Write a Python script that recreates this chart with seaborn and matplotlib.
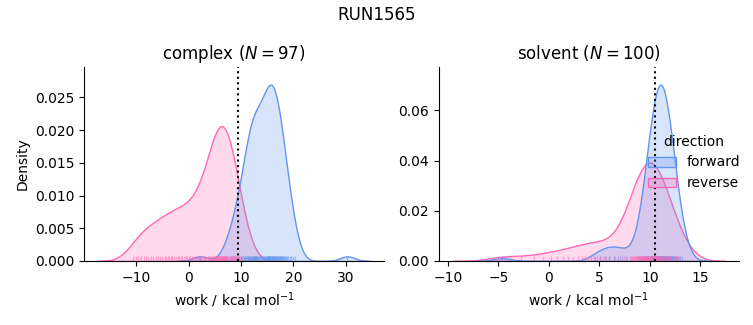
import numpy as np
import pandas as pd
import seaborn as sns
import matplotlib
matplotlib.use("Agg")
import matplotlib.pyplot as plt

# ---- data (work values in kcal/mol) ----
complex_forward = [
    2.2, 30.3,
    7.2, 7.8, 8.3, 8.7, 9.0,
    9.3, 9.6, 9.9, 10.1, 10.3, 10.5, 10.7, 10.8, 11.0, 11.2,
    11.3, 11.4, 11.5, 11.6, 11.7, 11.8, 11.9, 12.0, 12.1, 12.2, 12.3, 12.4,
    12.5, 12.6, 12.7, 12.75, 12.8, 12.9, 13.0,
    13.1, 13.25, 13.4, 13.5, 13.65, 13.8, 13.9, 14.05, 14.2, 14.3, 14.45,
    14.6, 14.7, 14.8, 14.9, 15.0,
    15.05, 15.1, 15.2, 15.25, 15.3, 15.4, 15.5, 15.55, 15.6, 15.7, 15.8,
    15.85, 15.9, 16.0, 16.1, 16.15, 16.2, 16.3, 16.4, 16.5, 16.6, 16.7,
    16.8, 16.9, 17.0,
    17.1, 17.2, 17.3, 17.4, 17.5, 17.6, 17.7, 17.8, 17.9, 18.0, 18.1,
    18.25, 18.4,
    18.6, 18.8, 19.0, 19.3, 19.6, 19.9, 20.3,
]
complex_reverse = [
    -10.7, -10.1, -9.6, -9.0, -8.6, -8.1, -7.7, -7.2, -6.8, -6.3, -5.9, -5.5,
    -5.0, -4.6, -4.3, -4.0,
    -3.7, -3.4, -3.1, -2.8, -2.5, -2.1, -1.8, -1.5, -1.2, -0.9, -0.6, -0.3, 0.0,
    0.3, 0.6, 0.9, 1.2, 1.4, 1.7, 1.9, 2.1,
    2.4, 2.7, 2.9, 3.2, 3.4, 3.6, 3.8, 4.0, 4.2, 4.4, 4.5, 4.7, 4.8, 5.0,
    5.1, 5.15, 5.2, 5.3, 5.4, 5.5, 5.6, 5.7, 5.8, 5.85, 5.9, 6.0, 6.1, 6.2,
    6.3, 6.35, 6.4, 6.5, 6.6, 6.7, 6.75, 6.8, 6.9, 7.0, 7.1, 7.2, 7.3, 7.4,
    7.5, 7.7, 7.8, 8.0, 8.2,
    8.3, 8.4, 8.5, 8.6, 8.8, 8.9, 9.0, 9.1, 9.3, 9.4, 9.6, 9.8, 9.9,
]
solvent_forward = [
    -4.6,
    4.6, 5.1, 5.6, 6.0, 6.4, 6.8, 7.2, 7.6,
    8.91, 9.12, 9.27, 9.39, 9.49, 9.57, 9.65, 9.72, 9.78, 9.84, 9.89, 9.94,
    9.99, 10.04, 10.08, 10.12, 10.16, 10.20, 10.24, 10.28, 10.31, 10.35,
    10.38, 10.42, 10.45, 10.48, 10.51, 10.54, 10.57, 10.60, 10.63, 10.66,
    10.69, 10.72, 10.75, 10.78, 10.80, 10.83, 10.86, 10.89, 10.91, 10.94,
    10.97, 11.00, 11.02, 11.05,
    11.08, 11.10, 11.13, 11.16, 11.19, 11.21, 11.24, 11.27, 11.30, 11.32,
    11.35, 11.38, 11.41, 11.44, 11.47, 11.50, 11.53, 11.56, 11.59, 11.62,
    11.65, 11.68, 11.72, 11.75, 11.79, 11.82, 11.86, 11.90, 11.94, 11.98,
    12.02, 12.06, 12.11, 12.16, 12.21, 12.27, 12.32, 12.38, 12.45, 12.52,
    12.60, 12.69, 12.81, 12.96, 13.19,
]
solvent_reverse = [
    -5.0, -4.3, -2.8, -1.5, -0.6, 0.2, 0.8, 1.4, 1.9, 2.4, 2.9,
    3.3, 3.6, 3.9, 4.2, 4.5, 4.8, 5.1, 5.4, 5.7, 6.0,
    6.5, 7.0, 7.4, 7.7,
    8.0, 8.1, 8.2, 8.3, 8.4, 8.5, 8.6, 8.65, 8.7, 8.8, 8.85, 8.95,
    9.0, 9.04, 9.08, 9.12, 9.16, 9.2, 9.24, 9.28, 9.32, 9.36, 9.4, 9.44,
    9.48, 9.52, 9.56, 9.6, 9.64, 9.68, 9.72, 9.76, 9.8, 9.85, 9.9, 9.95,
    10.0, 10.05, 10.1, 10.15, 10.2, 10.25, 10.3, 10.35, 10.4, 10.45, 10.5,
    10.55, 10.6, 10.65, 10.7, 10.75, 10.8, 10.85, 10.9, 10.95, 10.98,
    11.05, 11.15, 11.25, 11.35, 11.45, 11.55, 11.6, 11.7, 11.75, 11.85,
    11.9, 11.95,
    12.1, 12.3, 12.45, 12.6, 12.75, 12.9,
]
phases = ["complex", "solvent"]
directions = ["forward", "reverse"]
n_labels = [97, 100]
free_energy = [9.4, 10.5]   # dotted reference lines
run_name = "RUN1565"
palette = {"forward": "cornflowerblue", "reverse": "hotpink"}

groups = {
    ("complex", "forward"): complex_forward,
    ("complex", "reverse"): complex_reverse,
    ("solvent", "forward"): solvent_forward,
    ("solvent", "reverse"): solvent_reverse,
}
rows = []
for (ph, d), vals in groups.items():
    for v in vals:
        rows.append({"phase": ph, "direction": d, "work": v})
df = pd.DataFrame(rows)

g = sns.displot(
    data=df, x="work", col="phase", col_order=phases,
    hue="direction", hue_order=directions, palette=palette,
    kind="kde", fill=True, rug=True, rug_kws=dict(alpha=0.5),
    facet_kws=dict(sharey=False, sharex=False),
    height=3.25, aspect=1.0,
)

for ax, ph, n, fe in zip(g.axes.flat, phases, n_labels, free_energy):
    ax.axvline(fe, color="k", ls=":", lw=1.5)
    ax.set_title(f"{ph} ($N = {n}$)")
    ax.set_xlabel("work / kcal mol$^{-1}$")
g.axes.flat[1].set_ylabel("")
g.axes.flat[0].set_ylabel("Density")

fig = g.figure
fig.set_size_inches(7.53, 3.25)
fig.subplots_adjust(left=0.1116, right=0.981, bottom=0.197, top=0.794, wspace=0.1833)
fig.suptitle(run_name)
fig.savefig("out.png", dpi=100)
